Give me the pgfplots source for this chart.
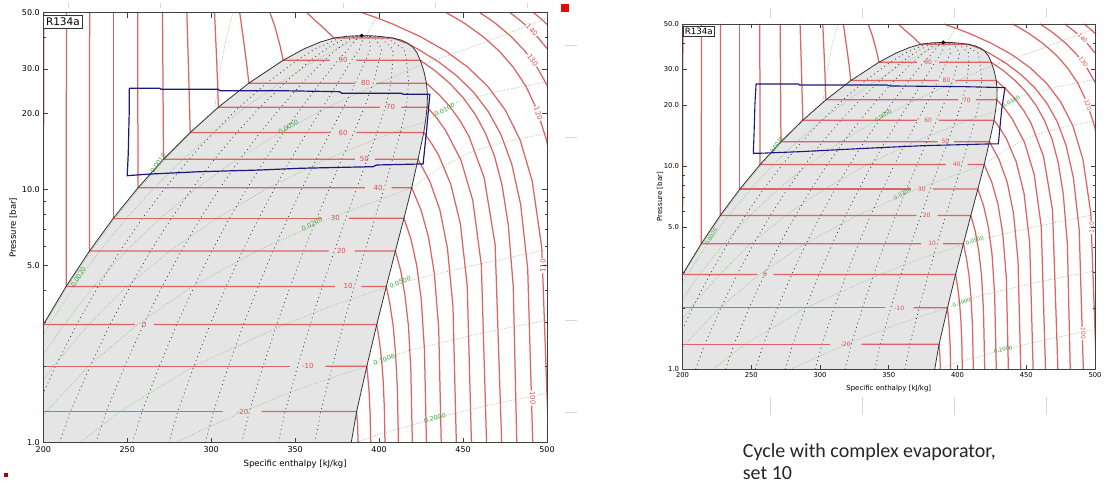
\documentclass[border=0pt]{standalone}
\usepackage{fontspec}
\setmainfont{DejaVu Sans}
\newfontfamily\carlito{Carlito}
\usepackage{pgfplots}
\pgfplotsset{compat=1.18}

\definecolor{isoT}{RGB}{220,100,100}
\definecolor{isoTtxt}{RGB}{222,80,80}
\definecolor{isoV}{RGB}{130,190,130}
\definecolor{isoVtxt}{RGB}{65,165,65}
\definecolor{domegray}{RGB}{229,229,229}
\definecolor{cyc}{RGB}{25,25,125}
\definecolor{deco}{RGB}{215,215,215}

\tikzset{
 pT/.style={color=isoT, line width=1.25pt},
 pQ/.style={color=black!75, line width=0.8pt, dash pattern=on 0.9pt off 3.4pt},
 pV/.style={color=isoV, line width=0.65pt, dash pattern=on 0.6pt off 1.3pt},
}

\newcommand\rlab[3]{\node[text=isoTtxt, font=\rlabfont, inner sep=0.3pt] at (axis cs:#1,#2) {#3};}
\newcommand\glab[4]{\node[text=isoVtxt, font=\glabfont, inner sep=0.3pt, rotate=#4] at (axis cs:#1,#2) {#3};}
\newcommand\vlab[4]{\node[text=isoTtxt, font=\rlabfont, inner sep=0.8pt, rotate=#4, fill=white] at (axis cs:#1,#2) {#3};}

\newcommand{\phcontent}{%
\addplot[fill=domegray, draw=none] coordinates {(200,1) (200,2.928) (213.6,4.146) (227.5,5.717) (241.7,7.702) (256.4,10.166) (271.6,13.179) (287.5,16.818) (304.3,21.168) (322.4,26.332) (342.9,32.442) (355,35.9) (365,38.3) (373.1,39.72) (381,40.35) (389.6,40.59) (396,40.5) (402,40.2) (408,39.7) (413,39.0) (417,37.9) (420,36.6) (422.5,34.8) (424.5,32.442) (426.6,29.5) (428.2,26.332) (428.8,23.6) (428.6,21.168) (427.8,19) (426.6,16.818) (423.2,13.179) (419.4,10.166) (414.8,7.702) (409.7,5.717) (404.3,4.146) (398.6,2.928) (392.7,2.006) (386.6,1.327) (383.4,1)} -- cycle;
\addplot[pV] coordinates {(187.2,2.006)(200.7,2.928)(214.4,4.146)(228.5,5.717)(242.8,7.702)(257.5,10.166)(272.6,13.179)(288.2,16.818)(296.2,18.9)(302,20.6)(305.5,30)(309,40)(313,50)};
\addplot[pV] coordinates {(167.5,1)(175.4,1.327)(189.3,2.006)(203.6,2.928)(218.3,4.146)(233.6,5.717)(249.5,7.702)(266.0,10.166)(283.3,13.179)(301.5,16.818)(320.6,21.168)(340.7,26.332)(362.2,32.442)(374.3,35.9)(387.7,39.72)(392.5,40.65)(396,45)(400.4,50)};
\addplot[pV] coordinates {(170.9,1)(179.8,1.327)(195.6,2.006)(212.3,2.928)(230.1,4.146)(249.2,5.717)(269.6,7.702)(291.6,10.166)(315.3,13.179)(341.4,16.818)(369.6,21.168)(400.4,26.332)(415.8,29.3)(426,31.3)(450,35.5)(475,41)(500,47.5)};
\addplot[pV] coordinates {(176.6,1)(187.2,1.327)(206.0,2.006)(226.9,2.928)(249.6,4.146)(275.2,5.717)(303.2,7.702)(334.2,10.166)(368.7,13.179)(407.9,16.818)(427.3,18.5)(438,20.6)(444,21.9)(472,24.5)(500,26.7)};
\addplot[pV] coordinates {(187.9,1)(201.8,1.327)(226.9,2.006)(256.0,2.928)(288.8,4.146)(327.1,5.717)(370.4,7.702)(419.4,10.166)(437,12.3)(456,14.2)(478,15.6)(500,16.7)};
\addplot[pV] coordinates {(221.9,1)(245.6,1.327)(289.5,2.006)(343.5,2.928)(373.1,3.497)(404.0,4.10)(412.5,4.28)(452,4.95)(500,5.8)};
\addplot[pV] coordinates {(278.5,1)(318.8,1.327)(353.4,1.64)(376.5,1.85)(392.7,2.006)(402.5,2.12)(418,2.32)(460,2.7)(500,3.05)};
\addplot[pV] coordinates {(386,1)(400,1.08)(416.3,1.157)(433.2,1.249)(466,1.41)(500,1.57)};
\addplot[pQ] coordinates {(187.8,1)(194.9,1.327)(207.3,2.006)(219.9,2.928)(232.7,4.146)(245.7,5.717)(259.0,7.702)(272.7,10.166)(286.8,13.179)(301.4,16.818)(316.7,21.168)(333.0,26.332)(351.1,32.442)(361.7,35.9)(376.6,39.72)(389.6,40.59)};
\addplot[pQ] coordinates {(209.6,1)(216.2,1.327)(227.9,2.006)(239.7,2.928)(251.7,4.146)(263.9,5.717)(276.3,7.702)(289.0,10.166)(301.9,13.179)(315.3,16.818)(329.2,21.168)(343.6,26.332)(359.2,32.442)(368.3,35.9)(380.1,39.72)(389.6,40.59)};
\addplot[pQ] coordinates {(231.3,1)(237.5,1.327)(248.5,2.006)(259.6,2.928)(270.8,4.146)(282.2,5.717)(293.6,7.702)(305.3,10.166)(317.1,13.179)(329.2,16.818)(341.6,21.168)(354.1,26.332)(367.4,32.442)(375.0,35.9)(383.6,39.72)(389.6,40.59)};
\addplot[pQ] coordinates {(253.0,1)(258.8,1.327)(269.1,2.006)(279.4,2.928)(289.9,4.146)(300.4,5.717)(310.9,7.702)(321.6,10.166)(332.2,13.179)(343.1,16.818)(354.0,21.168)(364.7,26.332)(375.5,32.442)(381.6,35.9)(387.1,39.72)(389.6,40.59)};
\addplot[pQ] coordinates {(274.8,1)(280.1,1.327)(289.7,2.006)(299.3,2.928)(308.9,4.146)(318.6,5.717)(328.3,7.702)(337.9,10.166)(347.4,13.179)(357.1,16.818)(366.5,21.168)(375.3,26.332)(383.7,32.442)(388.3,35.9)(390.6,39.72)(389.6,40.59)};
\addplot[pQ] coordinates {(296.5,1)(301.4,1.327)(310.3,2.006)(319.2,2.928)(328.0,4.146)(336.8,5.717)(345.6,7.702)(354.2,10.166)(362.6,13.179)(371.0,16.818)(378.9,21.168)(385.9,26.332)(391.9,32.442)(394.9,35.9)(394.0,39.72)(389.6,40.59)};
\addplot[pQ] coordinates {(318.2,1)(322.7,1.327)(330.9,2.006)(339.0,2.928)(347.1,4.146)(355.0,5.717)(362.9,7.702)(370.5,10.166)(377.7,13.179)(384.9,16.818)(391.3,21.168)(396.5,26.332)(400.0,32.442)(401.6,35.9)(397.5,39.72)(389.6,40.59)};
\addplot[pQ] coordinates {(339.9,1)(344.0,1.327)(351.5,2.006)(358.9,2.928)(366.2,4.146)(373.3,5.717)(380.2,7.702)(386.8,10.166)(392.9,13.179)(398.8,16.818)(403.7,21.168)(407.0,26.332)(408.2,32.442)(408.2,35.9)(401.0,39.72)(389.6,40.59)};
\addplot[pQ] coordinates {(361.7,1)(365.3,1.327)(372.1,2.006)(378.7,2.928)(385.2,4.146)(391.5,5.717)(397.5,7.702)(403.1,10.166)(408.0,13.179)(412.7,16.818)(416.2,21.168)(417.6,26.332)(416.3,32.442)(414.9,35.9)(404.5,39.72)(389.6,40.59)};
\addplot[pT] coordinates {(200,1.327)(307,1.327)};
\addplot[pT] coordinates {(330,1.327)(386.6,1.327)(387.2,1.164)(387.5,1)};
\addplot[pT] coordinates {(200,2.006)(347,2.006)};
\addplot[pT] coordinates {(368,2.006)(392.7,2.006)(394.0,1.604)(394.65,1.302)(395,1)};
\addplot[pT] coordinates {(200.3,50)(200,2.928)(254.5,2.928)};
\addplot[pT] coordinates {(266,2.928)(398.6,2.928)(400.1,2.542)(401.4,2.157)(402.4,1.771)(403.1,1.386)(403.5,1)};
\addplot[pT] coordinates {(213.8,50)(213.6,4.146)(373.6,4.146)};
\addplot[pT] coordinates {(389.5,4.146)(404.3,4.146)(406.5,3.517)(408.4,2.888)(409.8,2.258)(410.9,1.629)(411.5,1)};
\addplot[pT] coordinates {(227.6,50)(227.5,5.717)(370,5.717)};
\addplot[pT] coordinates {(385.5,5.717)(409.7,5.717)(412.9,4.774)(415.4,3.830)(417.5,2.887)(418.9,1.943)(419.8,1)};
\addplot[pT] coordinates {(241.7,50)(241.7,7.702)(366,7.702)};
\addplot[pT] coordinates {(382,7.702)(414.8,7.702)(419.0,6.362)(422.4,5.021)(425.1,3.681)(427.0,2.340)(428.2,1)};
\addplot[pT] coordinates {(256.2,50)(256.4,10.166)(391.5,10.166)};
\addplot[pT] coordinates {(407.4,10.166)(419.4,10.166)(424.9,8.333)(429.4,6.500)(432.9,4.666)(435.5,2.833)(437,1)};
\addplot[pT] coordinates {(271.0,50)(271.6,13.179)(385.5,13.179)};
\addplot[pT] coordinates {(397.5,13.179)(423.2,13.179)(430.3,10.743)(436.2,8.307)(440.7,5.872)(444.0,3.436)(446,1)};
\addplot[pT] coordinates {(285.5,50)(286.5,30)(287.5,16.818)(370.7,16.818)};
\addplot[pT] coordinates {(386.5,16.818)(426.6,16.818)(431.2,15.236)(435.5,13.654)(442.7,10.491)(448.4,7.327)(452.5,4.164)(455,1)};
\addplot[pT] coordinates {(302,50)(303.3,32)(304.3,21.168)(400.4,21.168)};
\addplot[pT] coordinates {(413.3,21.168)(428.6,21.168)(434.4,19.151)(439.6,17.134)(448.7,13.101)(455.8,9.067)(460.9,5.034)(464,1)};
\addplot[pT] coordinates {(317,50)(319.5,38)(321.5,30)(322.4,26.332)(385.5,26.332)};
\addplot[pT] coordinates {(398.4,26.332)(428.2,26.332)(435.5,23.799)(442.2,21.266)(448.2,18.732)(453.6,16.199)(462.6,11.133)(469.1,6.066)(473,1)};
\addplot[pT] coordinates {(335,50)(338,44)(341,37)(342.9,32.442)(370.7,32.442)};
\addplot[pT] coordinates {(386.5,32.442)(424.5,32.442)(433.9,29.298)(442.4,26.154)(450.2,23.009)(457.2,19.865)(463.3,16.721)(468.7,13.577)(473.2,10.433)(476.9,7.288)(479.9,4.144)(482,1)};
\addplot[pT] coordinates {(357,50)(362,46.5)(367.5,43.2)(373.1,39.72)(408,39.72)(416.8,37.784)(423.3,35.848)(435.4,31.976)(446.4,28.104)(456.3,24.232)(465.0,20.36)(472.6,16.488)(479.0,12.616)(484.3,8.744)(488.5,4.872)(491.5,1)};
\addplot[pT] coordinates {(390.0,50)(399.4,47.5)(408.1,45.1)(424.6,40.2)(439.6,35.3)(453.0,30.4)(464.9,25.5)(475.2,20.6)(484.0,15.7)(491.2,10.8)(496.9,5.9)(501,1)};
\addplot[pT] coordinates {(440.0,50)(446.0,47.5)(451.5,45.1)(462.0,40.2)(471.5,35.3)(480.0,30.4)(487.6,25.5)(494.1,20.6)(499.7,15.7)(504.3,10.8)};
\addplot[pT] coordinates {(460.0,50)(465.1,47.5)(469.8,45.1)(478.7,40.2)(486.8,35.3)(494.1,30.4)(500.5,25.5)(506,20.6)};
\addplot[pT] coordinates {(478.0,50)(482.4,47.5)(486.5,45.1)(494.2,40.2)(501.2,35.3)};
\addplot[pT] coordinates {(492.0,50)(496.1,47.5)(499.8,45.1)(507,40.2)};
\addplot[black!80, line width=0.8pt] coordinates {(200,2.928) (213.6,4.146) (227.5,5.717) (241.7,7.702) (256.4,10.166) (271.6,13.179) (287.5,16.818) (304.3,21.168) (322.4,26.332) (342.9,32.442) (355,35.9) (365,38.3) (373.1,39.72) (381,40.35) (389.6,40.59) (396,40.5) (402,40.2) (408,39.7) (413,39.0) (417,37.9) (420,36.6) (422.5,34.8) (424.5,32.442) (426.6,29.5) (428.2,26.332) (428.8,23.6) (428.6,21.168) (427.8,19) (426.6,16.818) (423.2,13.179) (419.4,10.166) (414.8,7.702) (409.7,5.717) (404.3,4.146) (398.6,2.928) (392.7,2.006) (386.6,1.327) (383.4,1)};
\addplot[only marks, mark=*, mark size=1.7pt, black] coordinates {(389.6,40.59)};
\rlab{318.7}{1.327}{-20}
\rlab{357.6}{2.006}{-10}
\rlab{260}{2.928}{0}
\rlab{381.5}{4.146}{10}
\rlab{377.6}{5.717}{20}
\rlab{374}{7.702}{30}
\rlab{399.4}{10.166}{40}
\rlab{391.2}{13.179}{50}
\rlab{378.6}{16.818}{60}
\rlab{406.8}{21.168}{70}
\rlab{392}{26.332}{80}
\rlab{378.6}{32.442}{90}
\vlab{491.5}{1.5}{100}{-88}
\vlab{497.6}{5.0}{110}{88}
\vlab{494.8}{20}{120}{-72}
\vlab{491.5}{32.5}{130}{-55}
\vlab{491}{42.7}{140}{-47}
\glab{268.4}{12.7}{0.0010}{55}
\glab{220.8}{4.51}{0.0020}{58}
\glab{346}{17.7}{0.0050}{32}
\glab{439}{20.7}{0.0100}{28}
\glab{360}{7.3}{0.0200}{28}
\glab{412.5}{4.3}{0.0500}{22}
\glab{403}{2.13}{0.1000}{20}
\glab{433.2}{1.25}{0.2000}{14}
}

\begin{document}
\begin{tikzpicture}
\path[use as bounding box] (0,0) rectangle (1107pt,486pt);
\fill[fill={rgb,255:red,230;green,10;blue,10}] (561pt,474pt) rectangle (569pt,482pt);
\fill[fill={rgb,255:red,170;green,0;blue,0}] (4pt,9.3pt) rectangle (7.5pt,13.3pt);
\foreach \xx in {770,862,954,1046}{
  \draw[deco, line width=0.8pt] (\xx pt,468pt) -- (\xx pt,478pt);
  \draw[deco, line width=0.8pt] (\xx pt,71pt) -- (\xx pt,89pt);}
\foreach \yy in {441,349,166,74}{
  \draw[deco, line width=0.8pt] (565pt,\yy pt) -- (577pt,\yy pt);}
\foreach \xx in {68,160,343,435,527}{
  \draw[deco, line width=0.6pt] (\xx pt,478pt) -- (\xx pt,483pt);}

\def\rlabfont{\fontsize{7}{8}\selectfont}
\def\glabfont{\fontsize{6.4}{7}\selectfont}
\begin{axis}[
  scale only axis, ymode=log, xmin=200, xmax=500, ymin=1, ymax=50,
  xtick={200,250,300,350,400,450,500},
  ytick={1,5,10,20,30,50}, yticklabels={1.0,5.0,10.0,20.0,30.0,50.0},
  minor ytick={2,3,4,6,7,8,9,40},
  tick align=inside,
  axis line style={black!75, line width=0.7pt},
  major tick style={black!75, line width=0.6pt},
  minor tick style={black!75, line width=0.5pt},
  xlabel={Specific enthalpy [kJ/kg]}, ylabel={Pressure [bar]},
  clip mode=individual, axis on top,
  xticklabel={\pgfmathprintnumber[assume math mode=true]{\tick}},
  at={(43.3pt,43.3pt)}, anchor=south west, width=503.7pt, height=430pt,
  tick label style={font=\fontsize{8}{9.6}\selectfont},
  label style={font=\fontsize{8.5}{10}\selectfont},
  ylabel shift=-2pt, xlabel shift=1pt,
  major tick length=5pt, minor tick length=2.5pt]
\phcontent
\addplot[cyc, line width=1.2pt] coordinates {(251.2,25.13) (269.5,25.13) (270.1,24.91) (304.2,24.91) (305.2,24.59) (340.9,24.59) (376.6,24.37) (377.6,24.02) (413.3,24.02) (414.3,23.80) (430.2,23.80) (428.2,16.93) (426.2,12.62) (424.2,12.62) (398.5,12.51) (396.4,12.32) (352.8,12.14) (329.0,11.95) (293.3,11.77) (263.5,11.52) (250.0,11.35) (250.6,13.91) (251.2,20.63) (251.2,25.13)};
\node[draw=black!80, fill=white, line width=0.6pt, anchor=north west, inner xsep=2.4pt, inner ysep=2.6pt, yshift=-2.3pt, font=\fontsize{10.5}{12}\selectfont] at (rel axis cs:0,1) {R134a};
\end{axis}

\def\rlabfont{\fontsize{6}{7}\selectfont}
\def\glabfont{\fontsize{5.4}{6}\selectfont}
\begin{axis}[
  scale only axis, ymode=log, xmin=200, xmax=500, ymin=1, ymax=50,
  xtick={200,250,300,350,400,450,500},
  ytick={1,5,10,20,30,50}, yticklabels={1.0,5.0,10.0,20.0,30.0,50.0},
  minor ytick={2,3,4,6,7,8,9,40},
  tick align=inside,
  axis line style={black!75, line width=0.7pt},
  major tick style={black!75, line width=0.6pt},
  minor tick style={black!75, line width=0.5pt},
  xlabel={Specific enthalpy [kJ/kg]}, ylabel={Pressure [bar]},
  clip mode=individual, axis on top,
  xticklabel={\pgfmathprintnumber[assume math mode=true]{\tick}},
  at={(682.5pt,116.7pt)}, anchor=south west, width=412.5pt, height=345.3pt,
  tick label style={font=\fontsize{6.8}{8}\selectfont},
  label style={font=\fontsize{7}{8.4}\selectfont},
  ylabel shift=-6pt,
  major tick length=4pt, minor tick length=2pt]
\phcontent
\addplot[cyc, line width=1.1pt] coordinates {(253.5,25.35) (284.2,25.35) (284.9,25.06) (348.5,25.06) (350.9,24.78) (404.2,24.59) (434.5,24.31) (432.1,18.9) (429.7,12.85) (423.6,12.85) (375.1,12.6) (343.6,12.32) (309.7,12.0) (285.5,11.77) (256.4,11.56) (251.5,11.56) (252.0,14.2) (252.7,20.4) (253.5,25.35)};
\node[draw=black!80, fill=white, line width=0.5pt, anchor=north west, inner xsep=2pt, inner ysep=2.1pt, yshift=-1.7pt, font=\fontsize{8.7}{10}\selectfont] at (rel axis cs:0,1) {R134a};
\end{axis}

\node[anchor=base west, inner sep=0pt, font=\carlito\fontsize{20}{24}\selectfont, text=black!85] at (742.7pt,28.7pt) {Cycle with complex evaporator,};
\node[anchor=base west, inner sep=0pt, font=\carlito\fontsize{20}{24}\selectfont, text=black!85] at (742.7pt,6pt) {set 10};
\end{tikzpicture}
\end{document}
